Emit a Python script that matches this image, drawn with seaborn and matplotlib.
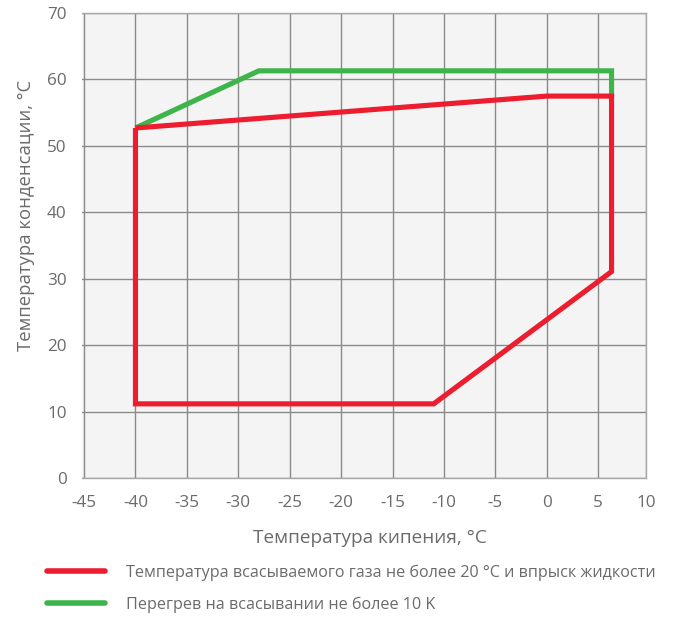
import matplotlib
matplotlib.use("Agg")
import matplotlib.pyplot as plt
import seaborn as sns
import pandas as pd
from matplotlib.lines import Line2D

# Data
red_x = [-40, -40, -11, 6.3, 6.3, 0, -40]
red_y = [52.7, 11.2, 11.2, 31.1, 57.5, 57.5, 52.7]
green_x = [-40, -28, 6.3, 6.3]
green_y = [52.7, 61.3, 61.3, 57.5]
red_label = "Температура всасываемого газа не более 20 °C и впрыск жидкости"
green_label = "Перегрев на всасывании не более 10 K"
x_ticks = [-45, -40, -35, -30, -25, -20, -15, -10, -5, 0, 5]
x_ticklabels = ["-45", "-40", "-35", "-30", "-25", "-20", "-15", "-10", "-5", "0", "5", "10"]
y_ticks = [0, 10, 20, 30, 40, 50, 60, 70]
xlabel = "Температура кипения, °C"
ylabel = "Температура конденсации, °C"

RED = "#ED1C2E"
GREEN = "#3DB54A"
TXT = "#6b6b6b"

sns.set_style("white")
plt.rcParams['font.family'] = ['Open Sans', 'DejaVu Sans']

fig = plt.figure(figsize=(6.75, 6.19), dpi=100)
ax = fig.add_axes([82/675, 1-478.3/619, (646-82)/675, (478.3-13)/619])
ax.set_facecolor("#F4F4F4")

df_g = pd.DataFrame({"x": green_x, "y": green_y})
df_r = pd.DataFrame({"x": red_x, "y": red_y})
sns.lineplot(data=df_g, x="x", y="y", sort=False, estimator=None, color=GREEN,
             lw=3.7, ax=ax, solid_joinstyle="miter", solid_capstyle="butt", zorder=3)
sns.lineplot(data=df_r, x="x", y="y", sort=False, estimator=None, color=RED,
             lw=3.7, ax=ax, solid_joinstyle="miter", solid_capstyle="butt", zorder=4)

xmin, xmax = -45.2, 9.65
ax.set_xlim(xmin, xmax)
ax.set_ylim(0, 70)
ax.set_xticks(x_ticks + [xmax])
ax.set_xticklabels(x_ticklabels)
ax.set_yticks(y_ticks)
ax.grid(True, color="#8a8a8a", lw=1)
ax.set_axisbelow(True)
for s in ax.spines.values():
    s.set_color("#a8a8a8")
    s.set_linewidth(1)
ax.spines["left"].set_visible(False)
ax.tick_params(axis="both", length=9, width=1, color="#8a8a8a", labelcolor=TXT,
               labelsize=12.3, pad=2)
ax.tick_params(axis="x", pad=3)
ax.set_xlabel(xlabel, color=TXT, fontsize=13.7, labelpad=13, x=0.51)
ax.set_ylabel(ylabel, color=TXT, fontsize=13.3, labelpad=9, y=0.566)

handles = [Line2D([], [], color=RED, lw=4), Line2D([], [], color=GREEN, lw=4)]
fig.legend(handles, [red_label, green_label], loc="upper left",
           bbox_to_anchor=(32/675, 1-550/619), frameon=False, fontsize=11.6,
           labelcolor=TXT, handlelength=3.66, handletextpad=1.3, labelspacing=0.95)

fig.savefig("out.png", dpi=100)
